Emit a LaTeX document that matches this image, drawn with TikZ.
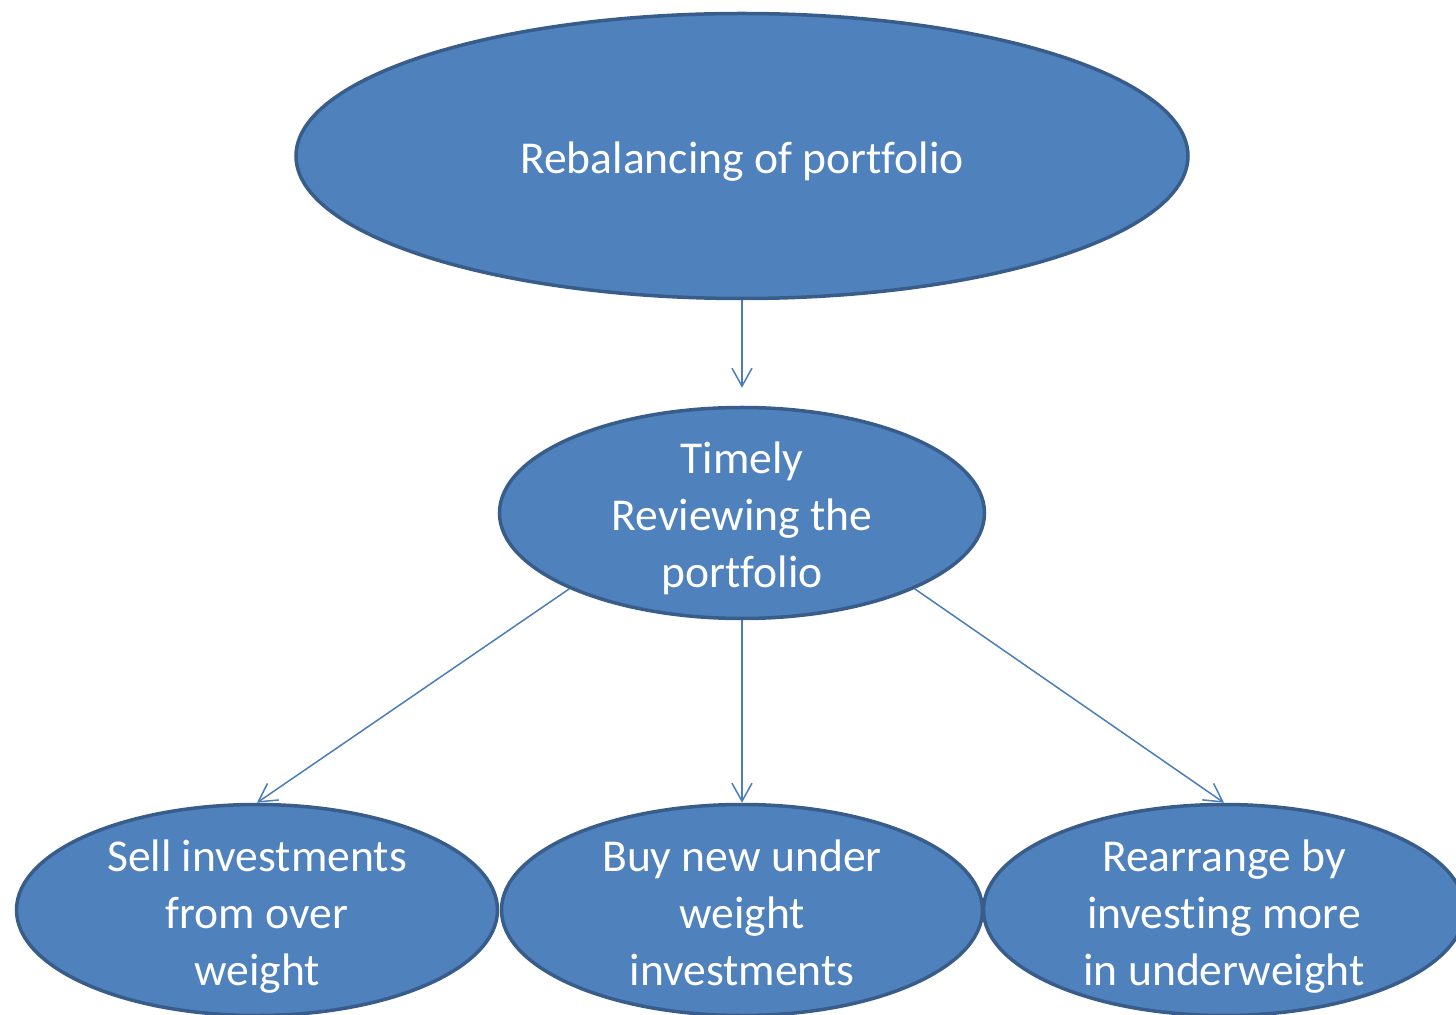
\documentclass[tikz,border=0pt]{standalone}
\usepackage{fontspec}
\setmainfont{Carlito}[Ligatures=NoCommon]
\usetikzlibrary{arrows.meta,shapes.geometric,positioning}
\definecolor{boxfill}{HTML}{4F81BD}
\definecolor{boxline}{HTML}{385D8A}
\definecolor{arrowline}{HTML}{4A7EBB}
\newcommand{\topstrut}{\rule{0pt}{23pt}}

\begin{document}
\begin{tikzpicture}[>={Straight Barb[length=9pt,width=10pt]}, node distance=2cm, on grid]

	\tikzset{
		enode/.style = {ellipse, draw=boxline, fill=boxfill, line width=1.75pt,
			text=white, align=center, inner sep=0pt,
			font=\fontsize{22.8}{28.5}\selectfont,
			execute at end node={\rule[-5pt]{0pt}{0pt}}},
		small/.style = {minimum width=240.5pt, minimum height=105.5pt, inner ysep=-16pt},
		link/.style = {arrowline, line width=0.75pt}
	}

	\useasboundingbox (-371pt,78pt) rectangle (357pt,-429.5pt);

	\node[enode, minimum width=446pt, minimum height=142.5pt] (root) {\rule{0pt}{22.5pt}Rebalancing of portfolio};
	\node[enode, small, minimum width=242.5pt] (rev) [below = 178.5pt of root] {\topstrut Timely\\Reviewing the\\portfolio};
	\node[enode, small] (buy) [below = 198.5pt of rev] {\topstrut Buy new under\\weight\\investments};
	\node[enode, small] (sell) [left = 242.5pt of buy] {\topstrut Sell investments\\from over\\weight};
	\node[enode, small] (more) [right = 241pt of buy] {\topstrut Rearrange by\\investing more\\in underweight};

	\path[->, link]
	(root) edge [shorten >=9pt] (rev)
	(rev) edge (buy)
	(rev.south west) edge (sell.north)
	(rev.south east) edge (more.north)
	;

\end{tikzpicture}
\end{document}
